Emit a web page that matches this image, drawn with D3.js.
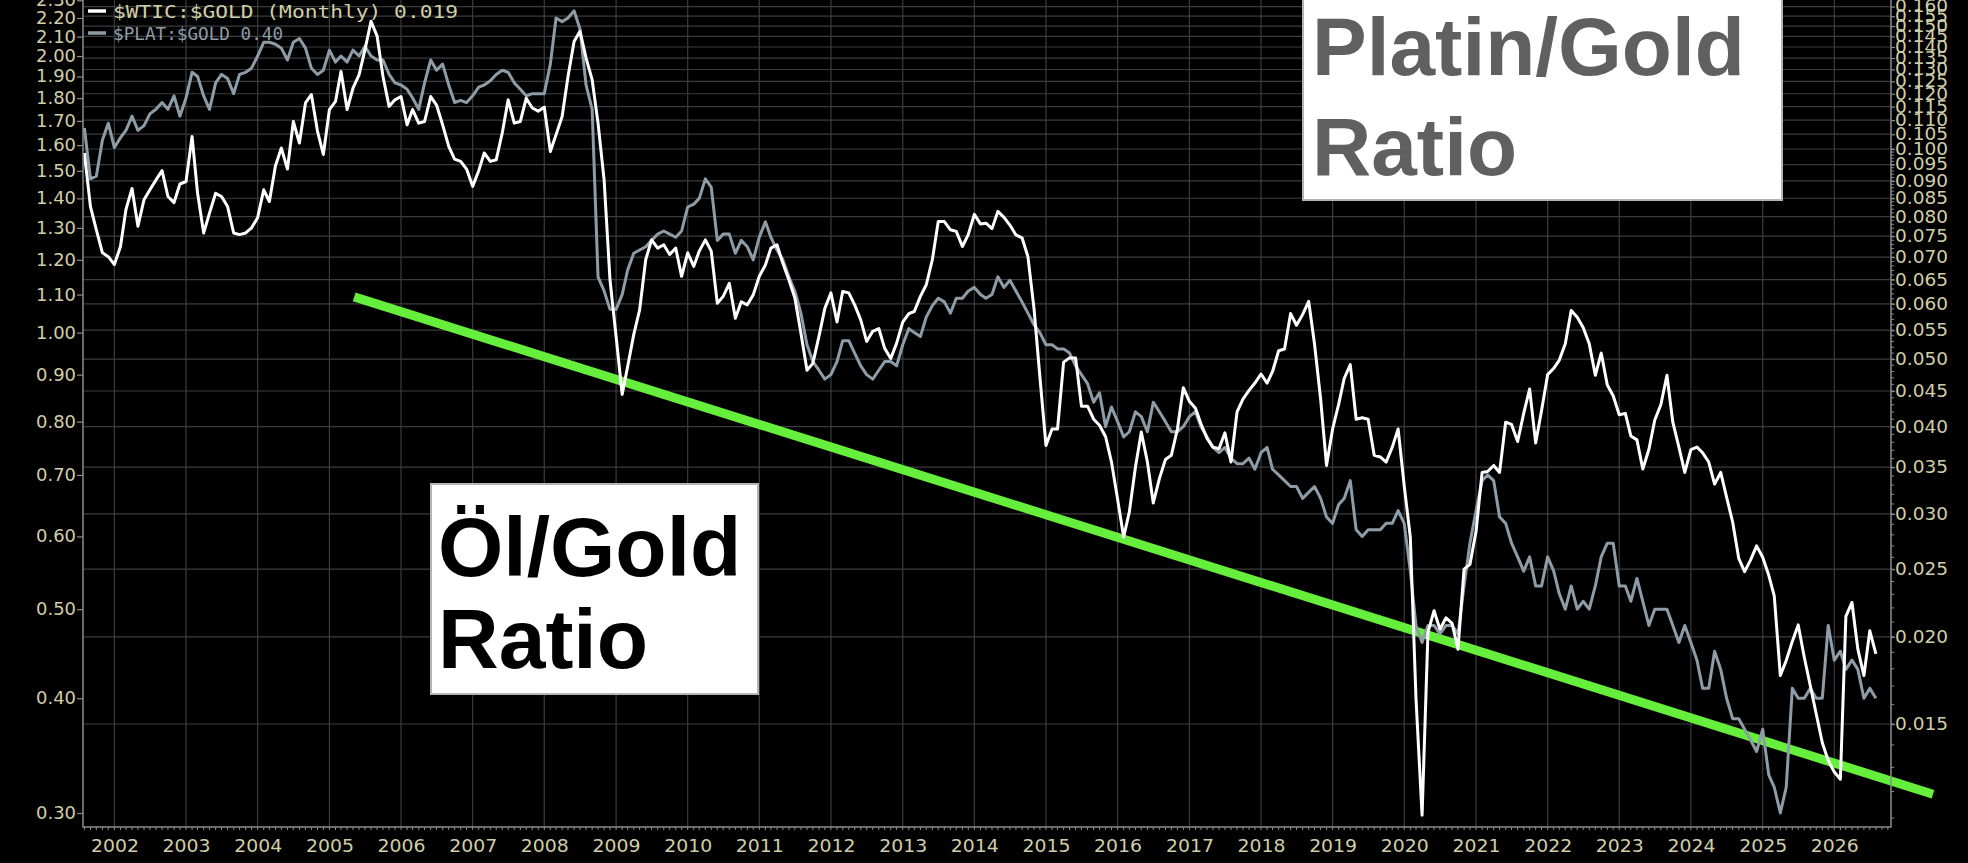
<!DOCTYPE html>
<html><head><meta charset="utf-8">
<script src="https://cdn.jsdelivr.net/npm/d3@7/dist/d3.min.js"></script>
<style>html,body{margin:0;padding:0;background:#000;overflow:hidden}</style>
</head><body>
<svg id="chart" width="1968" height="863"></svg>
<script>
// ---------- DATA ----------
// monthly series, first point = August 2001
const firstYear = 2001, firstMonth = 7;
const oilGold = [
0.0987,0.0827,0.0766,0.0710,0.0701,0.0683,0.0725,0.0819,0.0878,0.0775,
0.0846,0.0874,0.0903,0.0931,0.0855,0.0838,0.0891,0.0898,0.1042,0.0864,
0.0758,0.0810,0.0864,0.0855,0.0827,0.0758,0.0754,0.0758,0.0771,0.0797,
0.0874,0.0841,0.0946,0.1003,0.0936,0.1095,0.1020,0.1164,0.1197,0.1061,
0.0982,0.1139,0.1170,0.1292,0.1139,0.1222,0.1277,0.1387,0.1524,0.1451,
0.1270,0.1151,0.1176,0.1189,0.1083,0.1139,0.1089,0.1095,0.1189,0.1156,
0.1083,0.1009,0.0967,0.0960,0.0936,0.0884,0.0931,0.0987,0.0960,0.0965,
0.1055,0.1176,0.1089,0.1095,0.1182,0.1145,0.1133,0.1148,0.0992,0.1048,
0.1113,0.1270,0.1426,0.1475,0.1350,0.1257,0.1089,0.0903,0.0649,0.0539,
0.0445,0.0488,0.0542,0.0588,0.0694,0.0741,0.0721,0.0729,0.0706,0.0721,
0.0657,0.0710,0.0679,0.0714,0.0741,0.0714,0.0601,0.0615,0.0642,0.0572,
0.0604,0.0598,0.0618,0.0657,0.0682,0.0721,0.0729,0.0686,0.0649,0.0612,
0.0545,0.0482,0.0493,0.0539,0.0591,0.0622,0.0565,0.0625,0.0622,0.0598,
0.0569,0.0530,0.0548,0.0553,0.0518,0.0501,0.0527,0.0565,0.0581,0.0585,
0.0615,0.0639,0.0694,0.0787,0.0787,0.0766,0.0762,0.0725,0.0754,0.0806,
0.0781,0.0783,0.0769,0.0814,0.0798,0.0778,0.0753,0.0746,0.0701,0.0591,
0.0472,0.0376,0.0397,0.0397,0.0495,0.0502,0.0502,0.0428,0.0428,0.0410,
0.0402,0.0387,0.0356,0.0315,0.0278,0.0302,0.0350,0.0393,0.0356,0.0311,
0.0337,0.0359,0.0364,0.0397,0.0455,0.0435,0.0425,0.0404,0.0385,0.0374,
0.0372,0.0392,0.0356,0.0420,0.0438,0.0451,0.0462,0.0476,0.0462,0.0480,
0.0514,0.0517,0.0581,0.0559,0.0579,0.0605,0.0525,0.0438,0.0352,0.0397,
0.0431,0.0469,0.0491,0.0410,0.0412,0.0410,0.0364,0.0362,0.0356,0.0374,
0.0397,0.0329,0.0278,0.0163,0.0111,0.0203,0.0218,0.0205,0.0213,0.0209,
0.0192,0.0250,0.0254,0.0283,0.0344,0.0345,0.0352,0.0344,0.0406,0.0403,
0.0381,0.0418,0.0453,0.0379,0.0422,0.0475,0.0485,0.0498,0.0526,0.0587,
0.0574,0.0555,0.0526,0.0474,0.0510,0.0459,0.0443,0.0416,0.0418,0.0388,
0.0383,0.0348,0.0371,0.0409,0.0430,0.0474,0.0406,0.0374,0.0344,0.0371,
0.0374,0.0367,0.0356,0.0331,0.0344,0.0317,0.0292,0.0259,0.0248,0.0258,
0.0270,0.0260,0.0245,0.0229,0.0176,0.0185,0.0197,0.0208,0.0187,0.0170,
0.0155,0.0141,0.0133,0.0128,0.0125,0.0214,0.0224,0.0192,0.0176,0.0204,
0.0189];
const platGold = [
1.67,1.47,1.48,1.62,1.69,1.59,1.63,1.66,1.72,1.66,
1.68,1.73,1.75,1.78,1.75,1.81,1.72,1.80,1.92,1.90,
1.81,1.75,1.87,1.91,1.89,1.82,1.91,1.92,1.94,2.00,
2.07,2.07,2.06,2.04,1.98,2.07,2.09,2.04,1.94,1.91,
1.93,2.03,1.97,2.00,1.97,2.03,2.00,2.05,2.00,1.98,
1.98,1.91,1.87,1.86,1.84,1.80,1.75,1.87,1.98,1.93,
1.96,1.86,1.78,1.79,1.78,1.81,1.85,1.86,1.88,1.91,
1.93,1.92,1.87,1.84,1.81,1.82,1.82,1.82,1.96,2.20,
2.18,2.20,2.24,2.14,1.86,1.75,1.15,1.11,1.06,1.06,
1.10,1.17,1.22,1.23,1.24,1.26,1.28,1.29,1.28,1.27,
1.29,1.37,1.38,1.40,1.47,1.44,1.26,1.28,1.28,1.22,
1.26,1.24,1.20,1.27,1.32,1.27,1.23,1.20,1.15,1.11,
1.05,0.97,0.93,0.91,0.89,0.90,0.93,0.98,0.98,0.95,
0.92,0.90,0.89,0.91,0.93,0.93,0.92,0.97,1.01,1.00,
0.99,1.04,1.07,1.09,1.08,1.05,1.09,1.09,1.11,1.12,
1.10,1.09,1.10,1.15,1.12,1.14,1.11,1.08,1.05,1.02,
1.00,0.97,0.97,0.96,0.96,0.95,0.92,0.90,0.88,0.84,
0.86,0.79,0.83,0.80,0.77,0.78,0.82,0.81,0.78,0.84,
0.82,0.80,0.78,0.78,0.79,0.81,0.82,0.79,0.77,0.75,
0.74,0.75,0.73,0.72,0.72,0.73,0.71,0.74,0.75,0.71,
0.70,0.69,0.68,0.68,0.66,0.67,0.68,0.66,0.63,0.62,
0.65,0.66,0.69,0.61,0.60,0.61,0.61,0.61,0.62,0.62,
0.64,0.62,0.55,0.48,0.46,0.48,0.48,0.47,0.48,0.48,
0.47,0.53,0.59,0.64,0.69,0.70,0.69,0.63,0.62,0.59,
0.57,0.55,0.57,0.53,0.53,0.57,0.55,0.52,0.50,0.53,
0.50,0.51,0.50,0.53,0.57,0.59,0.59,0.53,0.53,0.51,
0.54,0.51,0.48,0.50,0.50,0.50,0.48,0.46,0.48,0.46,
0.44,0.41,0.41,0.45,0.43,0.40,0.38,0.38,0.37,0.36,
0.35,0.37,0.33,0.32,0.30,0.32,0.41,0.40,0.40,0.41,
0.40,0.40,0.48,0.44,0.45,0.43,0.44,0.43,0.40,0.41,
0.40];
const yearTicks = d3.range(2002, 2027);
const leftTicks = [0.3,0.4,0.5,0.6,0.7,0.8,0.9,1.0,1.1,1.2,1.3,1.4,1.5,1.6,1.7,1.8,1.9,2.0,2.1,2.2,2.3];
const rightTicks = d3.range(15, 161, 5).map(v => v / 1000);
const rightMinor = d3.range(11, 101, 1).map(v => v / 1000);
const legendLabels = ["$WTIC:$GOLD (Monthly) 0.019", "$PLAT:$GOLD 0.40"];
const trendDates = [new Date(2005, 4, 7), new Date(2027, 4, 19)];
const trendValues = [0.0614, 0.0119];
const noteOil = ["Öl/Gold", "Ratio"];
const notePlat = ["Platin/Gold", "Ratio"];

// ---------- LAYOUT ----------
const L = 83, R = 1891, B = 827;
const svg = d3.select("#chart");
svg.append("rect").attr("width", 1968).attr("height", 863).attr("fill", "#000");

const x = d3.scaleTime().domain([new Date(2001, 6, 25), new Date(2026, 9, 17)]).range([L, R]);
const yL = d3.scaleLog().domain([0.3, 2.2]).range([813, 18]);
const yR = d3.scaleLog().domain([0.015, 0.1]).range([724, 149]);
const dateOf = i => new Date(firstYear, firstMonth + i, 1);
const axisCol = "#cfcea8", frameCol = "#8c8c8c", gridCol = "#3c3c3c";

// grid
const grid = svg.append("g");
grid.selectAll(".hg").data(rightTicks.filter(v => yR(v) > 0)).join("line")
  .attr("x1", L).attr("x2", R).attr("y1", d => yR(d)).attr("y2", d => yR(d))
  .attr("stroke", gridCol).attr("stroke-width", 1.2);
grid.selectAll(".vg").data(yearTicks).join("line")
  .attr("x1", d => x(new Date(d, 0, 1))).attr("x2", d => x(new Date(d, 0, 1)))
  .attr("y1", 0).attr("y2", B).attr("stroke", gridCol).attr("stroke-width", 1.2);

// trend line (under the series)
const trend = d3.line().x(d => x(d[0])).y(d => yR(d[1]));
svg.append("path").datum(trendDates.map((d, i) => [d, trendValues[i]]))
  .attr("d", trend).attr("stroke", "#66ee3c").attr("stroke-width", 9).attr("fill", "none");

// series
const lineP = d3.line().x((d, i) => x(dateOf(i))).y(d => yL(d));
const lineO = d3.line().x((d, i) => x(dateOf(i))).y(d => yR(d));
svg.append("path").datum(platGold).attr("d", lineP).attr("fill", "none")
  .attr("stroke", "#8e9ca8").attr("stroke-width", 3).attr("stroke-linejoin", "round");
svg.append("path").datum(oilGold).attr("d", lineO).attr("fill", "none")
  .attr("stroke", "#ffffff").attr("stroke-width", 3).attr("stroke-linejoin", "round");

// frame
svg.append("path").attr("d", `M${L},0V${B}H${R}V0`).attr("fill", "none")
  .attr("stroke", frameCol).attr("stroke-width", 1.5);

function styleAxis(g, w) {
  g.select(".domain").remove();
  g.selectAll(".tick line").attr("stroke", frameCol).attr("stroke-width", 1.2);
  g.selectAll("text").attr("fill", axisCol).attr("font-family", "DejaVu Sans")
    .attr("font-size", 17).attr("textLength", w).attr("lengthAdjust", "spacingAndGlyphs");
}
// left axis
const gl = svg.append("g").attr("transform", `translate(${L},0)`)
  .call(d3.axisLeft(yL).tickValues(leftTicks).tickSize(6).tickPadding(1).tickFormat(d3.format(".2f")));
styleAxis(gl, 40);
// right axis minor ticks
svg.append("g").selectAll("line").data(rightMinor.filter(v => yR(v) < B && yR(v) > 0)).join("line")
  .attr("x1", R).attr("x2", R + 3).attr("y1", d => yR(d)).attr("y2", d => yR(d))
  .attr("stroke", frameCol).attr("stroke-width", 1);
const gr = svg.append("g").attr("transform", `translate(${R},0)`)
  .call(d3.axisRight(yR).tickValues(rightTicks).tickSize(4).tickPadding(0).tickFormat(d3.format(".3f")));
styleAxis(gr, 53);
// bottom minor ticks (months)
svg.append("g").selectAll("line").data(d3.timeMonth.range(x.domain()[0], x.domain()[1])).join("line")
  .attr("x1", d => x(d)).attr("x2", d => x(d)).attr("y1", B).attr("y2", B + 3)
  .attr("stroke", frameCol).attr("stroke-width", 1);
const gb = svg.append("g").attr("transform", `translate(0,${B})`)
  .call(d3.axisBottom(x).tickValues(yearTicks.map(y => new Date(y, 0, 1))).tickSize(0).tickPadding(12)
    .tickFormat(d3.timeFormat("%Y")));
styleAxis(gb, 48);
gb.selectAll("text").attr("font-size", 18);

// legend
const leg = svg.append("g");
const legCols = ["#ffffff", "#8e9ca8"], legText = ["#cfcea8", "#8e9ca8"], legW = [345, 170];
legendLabels.forEach((t, i) => {
  const yy = 11 + i * 22;
  leg.append("line").attr("x1", 88).attr("x2", 106).attr("y1", yy).attr("y2", yy)
    .attr("stroke", legCols[i]).attr("stroke-width", 3.5);
  leg.append("text").attr("x", 113).attr("y", yy + 7).text(t)
    .attr("fill", legText[i]).attr("font-family", "DejaVu Sans Mono").attr("font-size", 18)
    .attr("textLength", legW[i]).attr("lengthAdjust", "spacingAndGlyphs");
});

// annotation boxes
function note(x0, y0, w, h, lines, col, fs, tx, bases) {
  const g = svg.append("g");
  g.append("rect").attr("x", x0).attr("y", y0).attr("width", w).attr("height", h)
    .attr("fill", "#fff").attr("stroke", "#b4b4b4").attr("stroke-width", 2);
  lines.forEach((t, i) => g.append("text").attr("x", tx).attr("y", bases[i]).text(t)
    .attr("fill", col).attr("font-family", "Liberation Sans, Arial, sans-serif")
    .attr("font-weight", "bold").attr("font-size", fs));
}
note(431, 484, 327, 210, noteOil, "#000", 84, 438, [576, 668]);
note(1303, -10, 479, 210, notePlat, "#606060", 82, 1312, [75, 175]);
</script>
</body></html>
